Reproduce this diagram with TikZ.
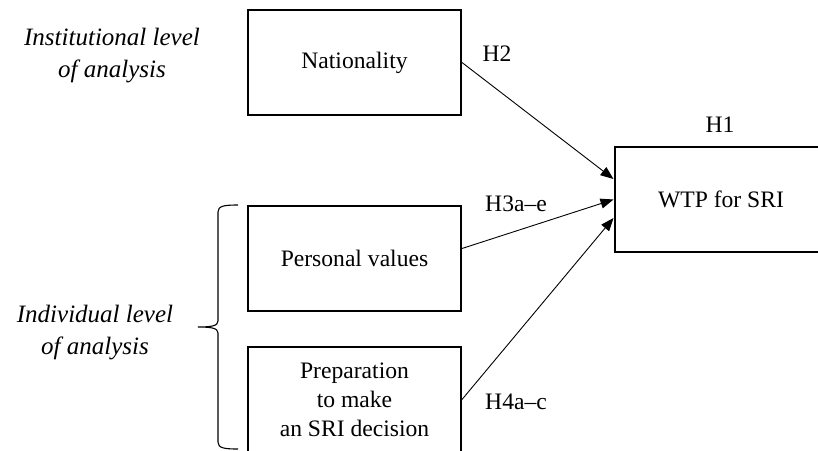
\documentclass[tikz,border=0pt]{standalone}
\usepackage{fontspec}
\setmainfont{Liberation Serif}
\usetikzlibrary{arrows.meta}
\begin{document}
\begin{tikzpicture}[x=1pt,y=-1pt,
  box/.style={draw,line width=2pt,minimum width=213pt,minimum height=105pt,inner sep=0pt,align=center,font=\fontsize{23.6}{29}\selectfont},
  lbl/.style={font=\fontsize{23.6}{29}\selectfont,inner sep=0pt},
  lvl/.style={font=\fontsize{25}{32}\selectfont\itshape,align=center,inner sep=0pt},
  conn/.style={line width=0.9pt,-{Triangle[length=13pt,width=10pt]}},
  brc/.style={line width=1.1pt}]
\useasboundingbox (0,0) rectangle (818,450);
\clip (0,0) rectangle (818,450);
\node[box] (nat) at (354.5,62.5) {Nationality};
\node[box] (pv) at (354.5,258.5) {Personal values};
\node[box] (prep) at (354.5,399.5) {Preparation\\to make\\an SRI decision};
\node[box] (wtp) at (721,199.5) {WTP for SRI};
\node[lvl] (inst) at (112,56) {Institutional level\\of analysis};
\node[lvl] (indiv) at (95,333) {Individual level\\of analysis};
\node[lbl] (h1) at (720,125) {H1};
\node[lbl] (h2) at (497,54) {H2};
\node[lbl] (h3) at (516,204) {H3a–e};
\node[lbl] (h4) at (516,402) {H4a–c};
\draw[conn] (nat.east) -- ([yshift=20.5pt]wtp.west);
\draw[conn] ([yshift=10pt]pv.east) -- (wtp.west);
\draw[conn] (prep.east) -- ([yshift=-18.5pt]wtp.west);
\draw[brc] (238,205) .. controls (224,205) and (218,206) .. (218,212) -- (218,321)
  .. controls (218,326) and (211,327) .. (198,327)
  .. controls (211,327) and (218,328) .. (218,333) -- (218,442)
  .. controls (218,448) and (224,449) .. (238,449);
\end{tikzpicture}
\end{document}
